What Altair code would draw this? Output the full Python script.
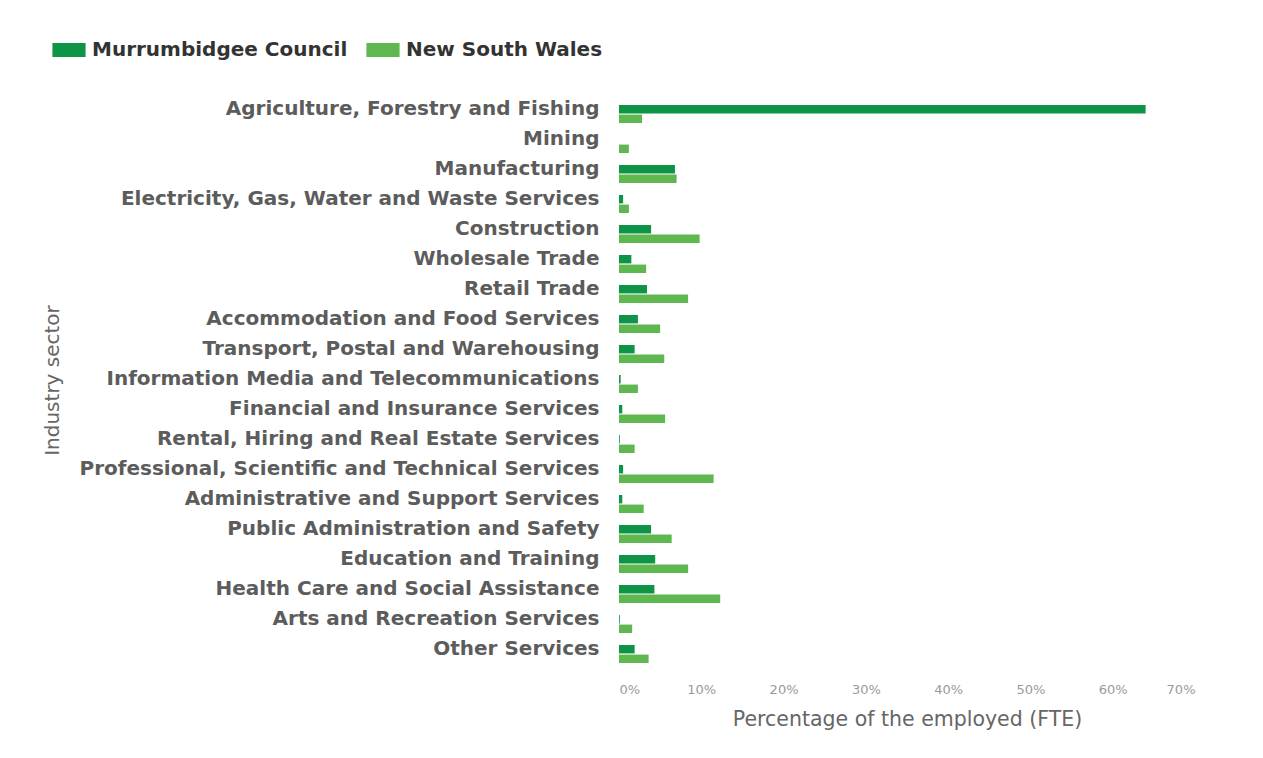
import altair as alt
import pandas as pd

sectors = [
    "Agriculture, Forestry and Fishing",
    "Mining",
    "Manufacturing",
    "Electricity, Gas, Water and Waste Services",
    "Construction",
    "Wholesale Trade",
    "Retail Trade",
    "Accommodation and Food Services",
    "Transport, Postal and Warehousing",
    "Information Media and Telecommunications",
    "Financial and Insurance Services",
    "Rental, Hiring and Real Estate Services",
    "Professional, Scientific and Technical Services",
    "Administrative and Support Services",
    "Public Administration and Safety",
    "Education and Training",
    "Health Care and Social Assistance",
    "Arts and Recreation Services",
    "Other Services",
]
murrumbidgee = [64.0, 0.0, 6.8, 0.5, 3.9, 1.5, 3.4, 2.3, 1.9, 0.2, 0.4, 0.1, 0.5, 0.4, 3.9, 4.4, 4.3, 0.1, 1.9]
nsw = [2.8, 1.2, 7.0, 1.2, 9.8, 3.3, 8.4, 5.0, 5.5, 2.3, 5.6, 1.9, 11.5, 3.0, 6.4, 8.4, 12.3, 1.6, 3.6]
regions = ["Murrumbidgee Council", "New South Wales"]
colors = ["#0e9447", "#5fb84f"]
x_ticks = [0, 10, 20, 30, 40, 50, 60, 70]

rows = []
for s, m, n in zip(sectors, murrumbidgee, nsw):
    rows.append({"sector": s, "region": regions[0], "value": m})
    rows.append({"sector": s, "region": regions[1], "value": n})
df = pd.DataFrame(rows)

FONT = "DejaVu Sans"

chart = alt.Chart(df).mark_bar().encode(
    x=alt.X("value:Q",
            scale=alt.Scale(domain=[0, 70], nice=False),
            axis=alt.Axis(values=x_ticks, labelExpr="datum.value + '%'",
                          title="Percentage of the employed (FTE)",
                          grid=False, domain=False, ticks=False,
                          labelColor="#9a9a9a", labelFontSize=13,
                          labelFont=FONT, labelPadding=14,
                          titleFont=FONT, titleFontSize=20.5,
                          titleFontWeight="normal", titleColor="#666666",
                          titlePadding=13)),
    y=alt.Y("sector:N", sort=sectors,
            scale=alt.Scale(paddingInner=0.4, paddingOuter=0.2),
            axis=alt.Axis(title="Industry sector", grid=False, domain=False,
                          ticks=False, labelFont=FONT,
                          labelFontSize=20, labelFontWeight="bold",
                          labelColor="#5c5c5c", labelPadding=20,
                          labelOffset=-5, labelLimit=800,
                          titleFont=FONT, titleFontSize=20,
                          titleFontWeight="normal", titleColor="#666666",
                          titleAngle=-90, titleX=-567, titleY=281,
                          titleAlign="center", titleBaseline="middle")),
    yOffset=alt.YOffset("region:N", sort=regions,
                        scale=alt.Scale(paddingInner=0.12)),
    color=alt.Color("region:N", sort=regions,
                    scale=alt.Scale(domain=regions, range=colors),
                    legend=alt.Legend(title=None, orient="none",
                                      legendX=-567, legendY=-66,
                                      direction="horizontal",
                                      symbolType="M-1,-0.42H1V0.42H-1Z",
                                      symbolSize=1100, symbolStrokeWidth=0,
                                      labelFont=FONT, labelLimit=400,
                                      labelFontSize=20, labelFontWeight="bold",
                                      labelColor="#333333", labelOffset=6,
                                      columnPadding=18)),
).properties(
    width=576,
    height=570,
    padding={"left": 611, "top": 91, "right": 60, "bottom": 80},
    autosize=alt.AutoSizeParams(type="none"),
    background="white",
).configure_view(stroke=None)

chart.save("out.html", embed_options={"renderer": "svg", "actions": False})
